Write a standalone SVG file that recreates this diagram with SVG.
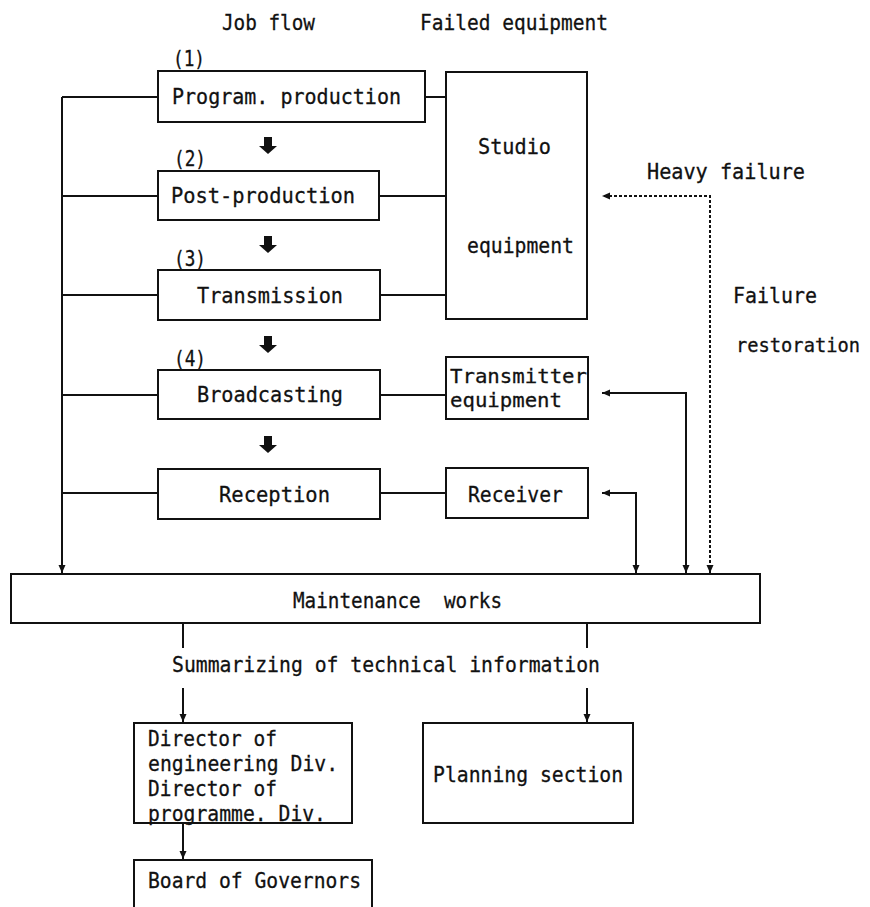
<svg xmlns="http://www.w3.org/2000/svg" width="870" height="907" viewBox="0 0 870 907">
  <style>
    .box { fill: #fff; stroke: #111; stroke-width: 2; }
    .ln { fill: none; stroke: #111; stroke-width: 2; }
    .dot { fill: none; stroke: #111; stroke-width: 2; stroke-dasharray: 3 2; }
    .t { font-family: "DejaVu Sans Mono", "Liberation Mono", monospace; font-size: 22px; fill: #111; stroke: #111; stroke-width: 0.3; }
    .s { font-size: 20px; }
    .xs { font-size: 19px; }
    .blk { fill: #111; }
  </style>
  <defs>
    <marker id="ah" viewBox="0 0 8 8" refX="8" refY="4" markerWidth="8" markerHeight="8" markerUnits="userSpaceOnUse" orient="auto-start-reverse">
      <path d="M0,0.5 L8,4 L0,7.5 z" fill="#111" stroke="none"/>
    </marker>
  </defs>

  <!-- column headings -->
  <g id="headings">
    <text class="t" x="222" y="30" textLength="93" lengthAdjust="spacingAndGlyphs">Job flow</text>
    <text class="t" x="420" y="30" textLength="188" lengthAdjust="spacingAndGlyphs">Failed equipment</text>
  </g>

  <!-- connectors -->
  <g id="connectors">
    <!-- left maintenance bus -->
    <path class="ln" d="M62,97 V573" marker-end="url(#ah)"/>
    <path class="ln" d="M62,97 H158 M62,196 H158 M62,295 H158 M62,395 H158 M62,493 H158"/>
    <!-- job step to equipment links -->
    <path class="ln" d="M425,97 H446 M379,196 H446 M380,295 H446 M380,395 H446 M380,493 H446"/>
    <!-- job flow block arrows -->
    <path class="blk" d="M264,137 h8 v9 h5 l-9,8 l-9,-8 h5 z"/>
    <path class="blk" d="M264,236 h8 v9 h5 l-9,8 l-9,-8 h5 z"/>
    <path class="blk" d="M264,336 h8 v9 h5 l-9,8 l-9,-8 h5 z"/>
    <path class="blk" d="M264,436 h8 v9 h5 l-9,8 l-9,-8 h5 z"/>
    <!-- heavy failure restoration path -->
    <path class="dot" d="M710,573 V196 H602" marker-start="url(#ah)" marker-end="url(#ah)"/>
    <!-- transmitter and receiver restoration paths -->
    <path class="ln" d="M686,573 V393 H602" marker-start="url(#ah)" marker-end="url(#ah)"/>
    <path class="ln" d="M636,573 V493 H602" marker-start="url(#ah)" marker-end="url(#ah)"/>
    <!-- reporting lines -->
    <path class="ln" d="M183,623 V648 M587,623 V648"/>
    <path class="ln" d="M183,688 V722" marker-end="url(#ah)"/>
    <path class="ln" d="M587,688 V722" marker-end="url(#ah)"/>
    <path class="ln" d="M183,823 V859" marker-end="url(#ah)"/>
  </g>

  <g id="job1">
    <rect class="box" x="158" y="71" width="267" height="51"/>
    <text class="t" x="173" y="66" textLength="32" lengthAdjust="spacingAndGlyphs">(1)</text>
    <text class="t" x="172" y="104" textLength="229" lengthAdjust="spacingAndGlyphs">Program. production</text>
  </g>
  <g id="job2">
    <rect class="box" x="158" y="171" width="221" height="49"/>
    <text class="t" x="174" y="166" textLength="32" lengthAdjust="spacingAndGlyphs">(2)</text>
    <text class="t" x="171" y="203" textLength="184" lengthAdjust="spacingAndGlyphs">Post-production</text>
  </g>
  <g id="job3">
    <rect class="box" x="158" y="270" width="222" height="50"/>
    <text class="t" x="174" y="266" textLength="32" lengthAdjust="spacingAndGlyphs">(3)</text>
    <text class="t" x="197" y="303" textLength="146" lengthAdjust="spacingAndGlyphs">Transmission</text>
  </g>
  <g id="job4">
    <rect class="box" x="158" y="370" width="222" height="49"/>
    <text class="t" x="174" y="366" textLength="32" lengthAdjust="spacingAndGlyphs">(4)</text>
    <text class="t" x="197" y="402" textLength="146" lengthAdjust="spacingAndGlyphs">Broadcasting</text>
  </g>
  <g id="job5">
    <rect class="box" x="158" y="469" width="222" height="50"/>
    <text class="t" x="219" y="502" textLength="111" lengthAdjust="spacingAndGlyphs">Reception</text>
  </g>

  <g id="studio">
    <rect class="box" x="446" y="72" width="141" height="247"/>
    <text class="t" x="478" y="154" textLength="73" lengthAdjust="spacingAndGlyphs">Studio</text>
    <text class="t" x="467" y="253" textLength="107" lengthAdjust="spacingAndGlyphs">equipment</text>
  </g>
  <g id="transmitter">
    <rect class="box" x="446" y="357" width="142" height="62"/>
    <text class="t s" x="450" y="383" textLength="137" lengthAdjust="spacingAndGlyphs">Transmitter</text>
    <text class="t s" x="450" y="407" textLength="112" lengthAdjust="spacingAndGlyphs">equipment</text>
  </g>
  <g id="receiver">
    <rect class="box" x="446" y="468" width="142" height="50"/>
    <text class="t" x="468" y="502" textLength="95" lengthAdjust="spacingAndGlyphs">Receiver</text>
  </g>

  <g id="failure-notes">
    <text class="t" x="647" y="179" textLength="158" lengthAdjust="spacingAndGlyphs">Heavy failure</text>
    <text class="t" x="733" y="303" textLength="84" lengthAdjust="spacingAndGlyphs">Failure</text>
    <text class="t xs" x="736" y="352" textLength="124" lengthAdjust="spacingAndGlyphs">restoration</text>
  </g>

  <g id="maintenance">
    <rect class="box" x="11" y="574" width="749" height="49"/>
    <text class="t" x="293" y="608" textLength="209" lengthAdjust="spacingAndGlyphs" xml:space="preserve">Maintenance  works</text>
  </g>

  <g id="summary-label">
    <text class="t" x="172" y="672" textLength="428" lengthAdjust="spacingAndGlyphs">Summarizing of technical information</text>
  </g>

  <g id="directors">
    <rect class="box" x="134" y="723" width="218" height="100"/>
    <text class="t" x="148" y="746" textLength="129" lengthAdjust="spacingAndGlyphs">Director of</text>
    <text class="t" x="148" y="771" textLength="190" lengthAdjust="spacingAndGlyphs">engineering Div.</text>
    <text class="t" x="148" y="796" textLength="129" lengthAdjust="spacingAndGlyphs">Director of</text>
    <text class="t" x="148" y="821" textLength="178" lengthAdjust="spacingAndGlyphs">programme. Div.</text>
  </g>
  <g id="planning">
    <rect class="box" x="423" y="723" width="210" height="100"/>
    <text class="t" x="433" y="782" textLength="190" lengthAdjust="spacingAndGlyphs">Planning section</text>
  </g>
  <g id="board">
    <rect class="box" x="134" y="860" width="238" height="70"/>
    <text class="t" x="148" y="888" textLength="213" lengthAdjust="spacingAndGlyphs">Board of Governors</text>
  </g>
</svg>
